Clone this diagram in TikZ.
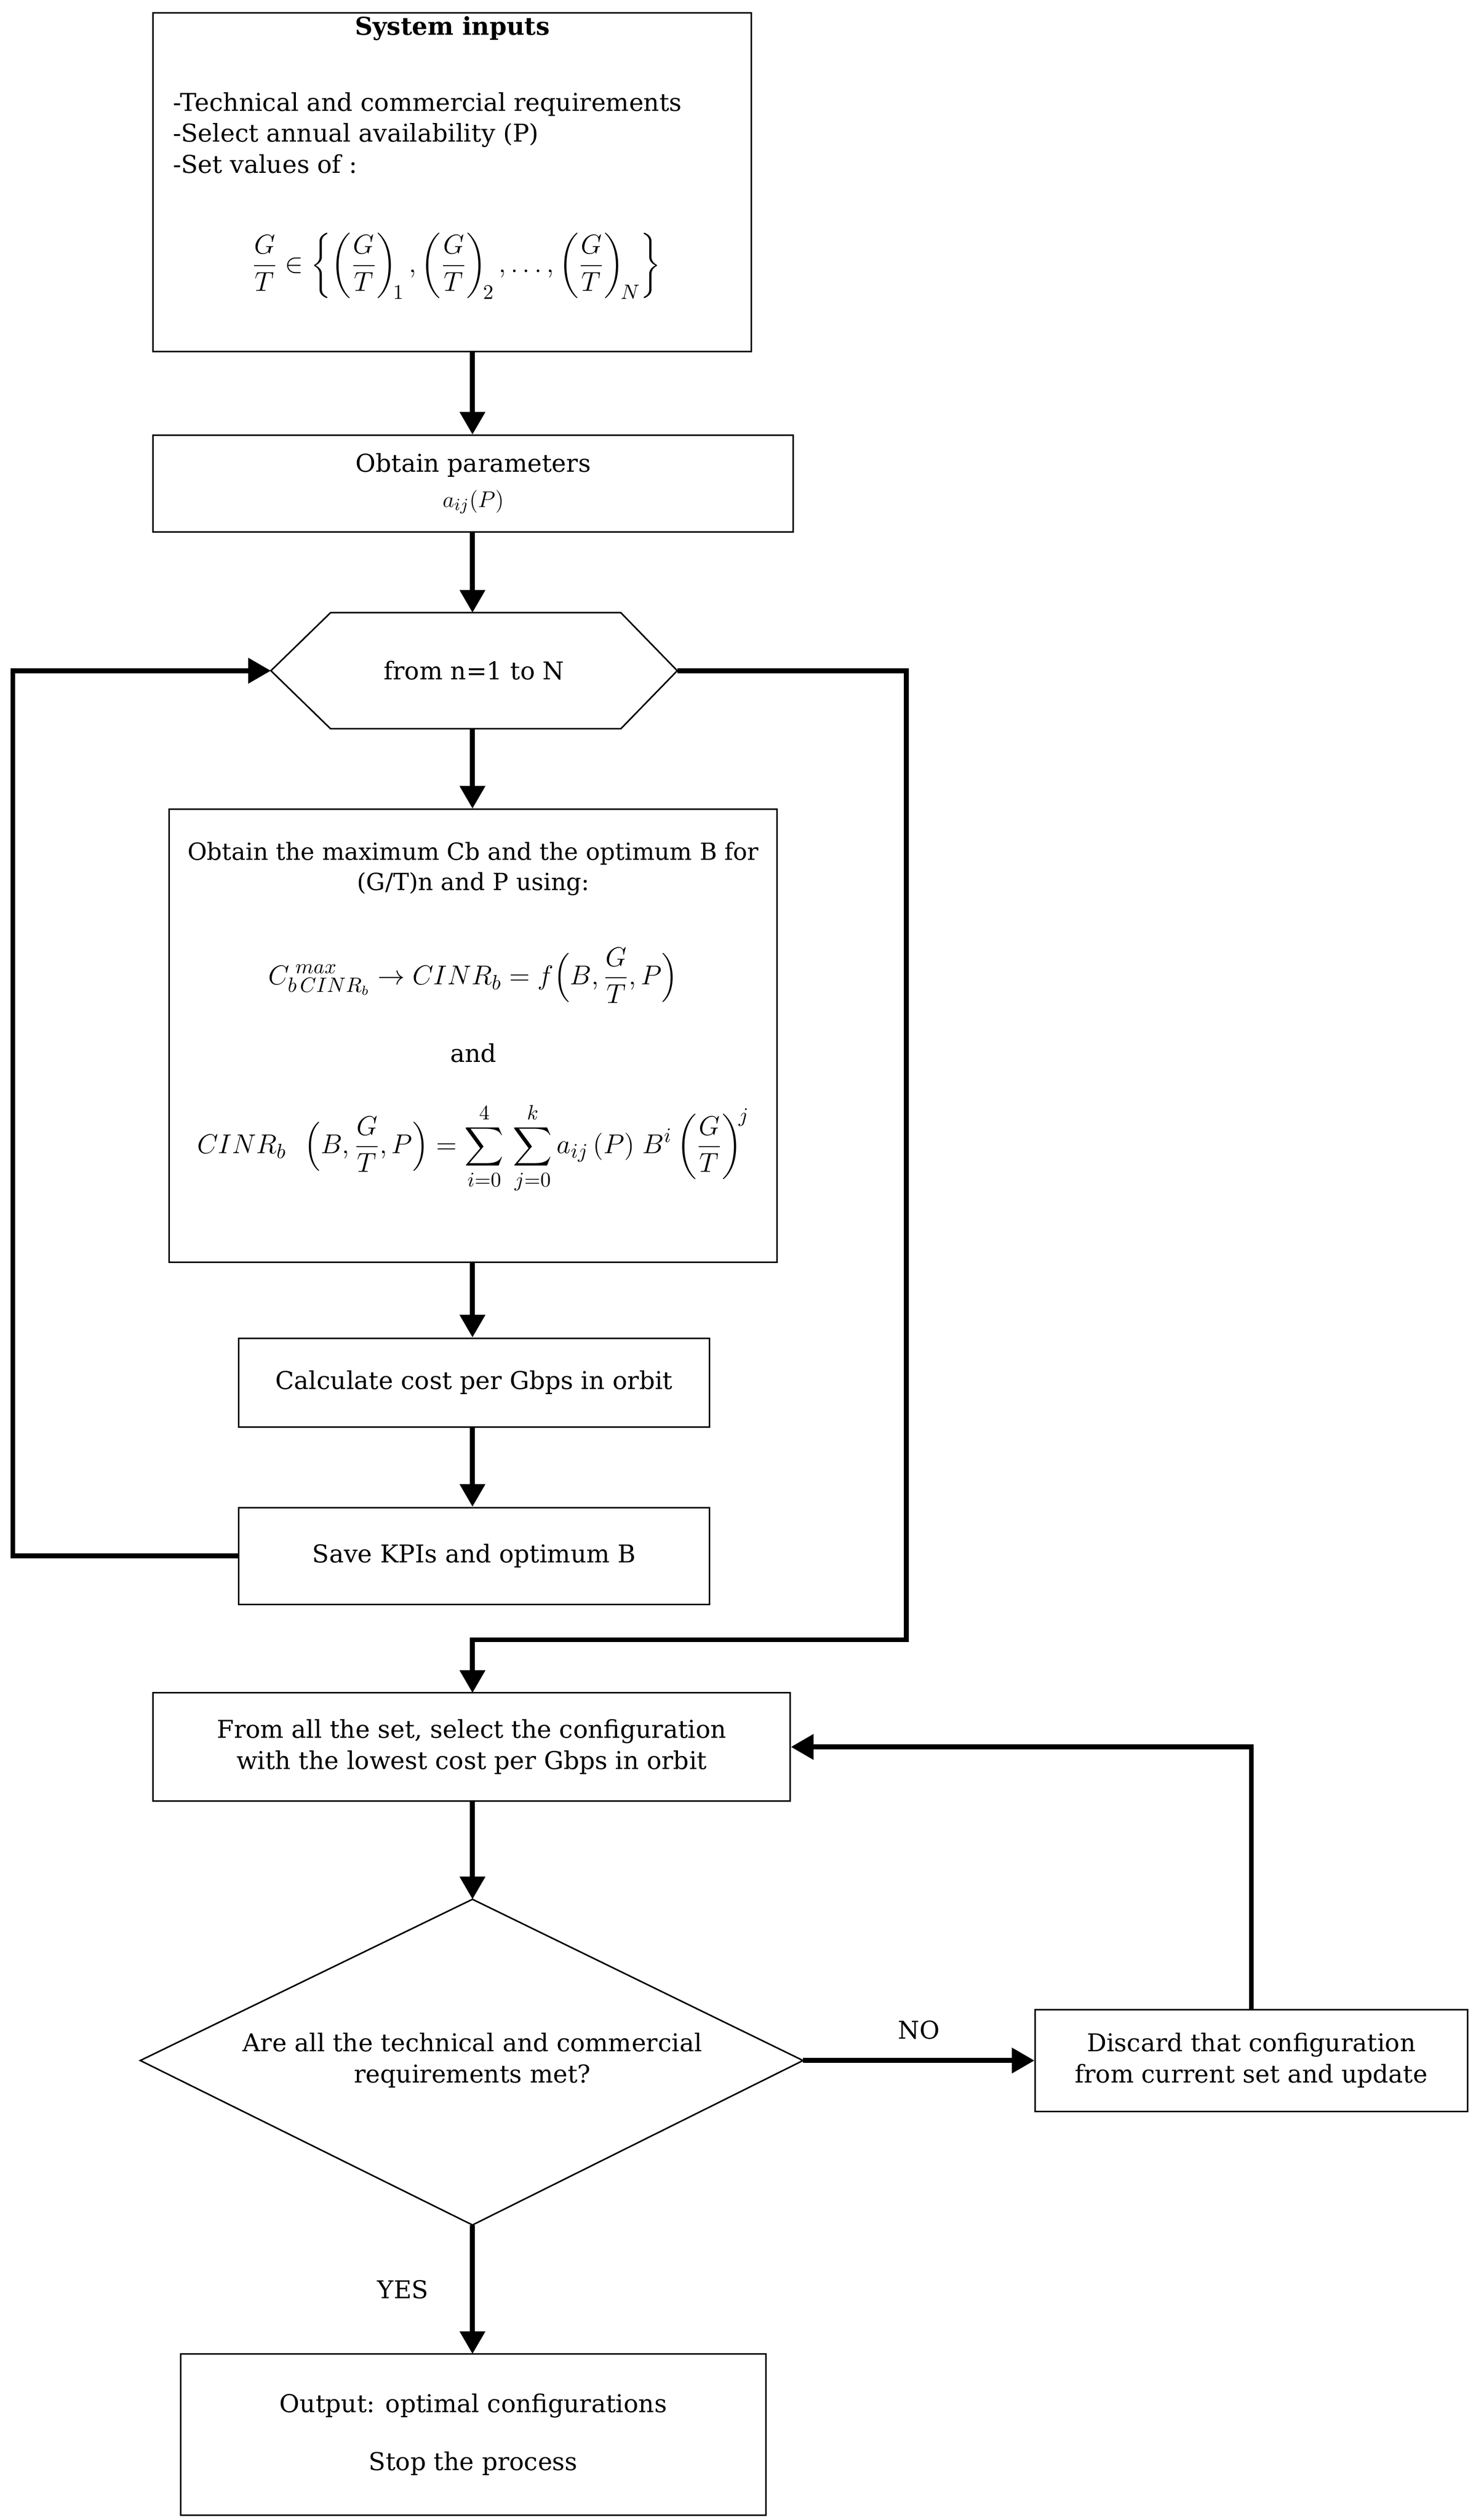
\documentclass[tikz,border=0pt]{standalone}
\usepackage{fontspec}
\usepackage{amsmath}
\setmainfont{DejaVu Serif}
\usetikzlibrary{arrows.meta,calc}

\begin{document}
\begin{tikzpicture}[
  x=0.03cm, y=-0.03cm,
  every node/.style={font=\fontsize{13}{16.5}\selectfont},
  block/.style={
    draw,
    rectangle,
    line width=0.8pt,
    align=center,
    inner sep=0pt
  },
  plain/.style={
    draw=none,
    fill=none,
    inner sep=0pt
  },
  bigmath/.style={
    plain,
    font=\fontsize{15}{18}\selectfont
  },
  flow/.style={
    line width=2.6pt,
    -{Triangle[length=12pt,width=13pt]}
  }
]
\useasboundingbox (0,0) rectangle (920,1563);

% Boxes
\node[block, minimum width=371*0.03cm, minimum height=210*0.03cm] (inputs) at (280.5,113) {};
\node[plain, anchor=north] (title) at (280.5,10) {\textbf{System inputs}};
\node[plain, anchor=north west, align=left] (reqs) at (107,57)
  {-Technical and commercial requirements\\-Select annual availability (P)\\-Set values of :};
\node[bigmath] (gtset) at (283,165)
  {$\displaystyle \frac{G}{T} \in \left\{ \left(\frac{G}{T}\right)_{\!1}, \left(\frac{G}{T}\right)_{\!2}, \ldots, \left(\frac{G}{T}\right)_{\!N} \right\}$};

\node[block, minimum width=397*0.03cm, minimum height=60*0.03cm] (params) at (293.5,300)
  {Obtain parameters\\[2pt] $a_{ij}(P)$};

\draw[line width=0.8pt] (168,416) -- (205,380) -- (385,380) -- (420,416) -- (385,452) -- (205,452) -- cycle;
\node[plain] (loop) at (294,416) {from n=1 to N};
\coordinate (loopW) at (168,416);
\coordinate (loopE) at (420,416);
\coordinate (loopS) at (293,452);

\node[block, minimum width=377*0.03cm, minimum height=281*0.03cm] (optim) at (293.5,642.5) {};
\node[plain, align=center, font=\fontsize{12.5}{16}\selectfont] (optimtxt) at (293.5,539)
  {Obtain the maximum Cb and the optimum B for\\(G/T)n and P using:};
\node[bigmath] (cmax) at (293.5,605)
  {$\displaystyle C_{b\,CINR_b}^{\;max} \rightarrow CINR_b = f\Big(B,\frac{G}{T},P\Big)$};
\node[plain] (andtxt) at (293.5,653) {and};
\node[bigmath] (cinr) at (293.5,712)
  {$\displaystyle CINR_b\ \ \Big(B,\frac{G}{T},P\Big) = \sum_{i=0}^{4}\,\sum_{j=0}^{k} a_{ij}\,(P)\;B^i\left(\frac{G}{T}\right)^{\!j}$};

\node[block, minimum width=292*0.03cm, minimum height=55*0.03cm] (cost) at (294,857.5)
  {Calculate cost per Gbps in orbit};
\node[block, minimum width=292*0.03cm, minimum height=60*0.03cm] (save) at (294,965)
  {Save KPIs and optimum B};

\node[block, minimum width=395*0.03cm, minimum height=67*0.03cm] (select) at (292.5,1083.5)
  {From all the set, select the configuration\\with the lowest cost per Gbps in orbit};

\draw[line width=0.8pt] (293,1178) -- (498,1278) -- (293,1380) -- (87,1278) -- cycle;
\node[plain, align=center] (check) at (293,1278)
  {Are all the technical and commercial\\requirements met?};
\coordinate (checkN) at (293,1178);
\coordinate (checkE) at (498,1278);
\coordinate (checkS) at (293,1380);

\node[block, minimum width=268*0.03cm, minimum height=63*0.03cm] (discard) at (776,1278)
  {Discard that configuration\\from current set and update};

\node[block, minimum width=363*0.03cm, minimum height=100*0.03cm] (output) at (293.5,1510)
  {Output: optimal configurations\\[14pt]Stop the process};

\coordinate (inputsS) at (293,218);
\coordinate (selectN) at (293,1050);
\coordinate (outputN) at (293,1460);

% Arrows
\draw[flow] (inputsS) -- (params.north -| inputsS);
\draw[flow] (params.south -| inputsS) -- (293,380);
\draw[flow] (loopS) -- (optim.north -| loopS);
\draw[flow] (optim.south -| loopS) -- (cost.north -| loopS);
\draw[flow] (cost.south -| loopS) -- (save.north -| loopS);
\draw[flow] (save.west) -- (8,965) -- (8,416) -- (loopW);
\draw[flow] (loopE) -- (562,416) -- (562,1017) -- (293,1017) -- (selectN);
\draw[flow] (select.south -| checkN) -- (checkN);
\draw[flow] (checkE) -- node[above=10pt, plain] {NO} (discard.west);
\draw[flow] (discard.north) -- (discard.north |- select.east) -- (select.east);
\draw[flow] (checkS) -- node[left=22pt, plain] {YES} (outputN);

\end{tikzpicture}
\end{document}
